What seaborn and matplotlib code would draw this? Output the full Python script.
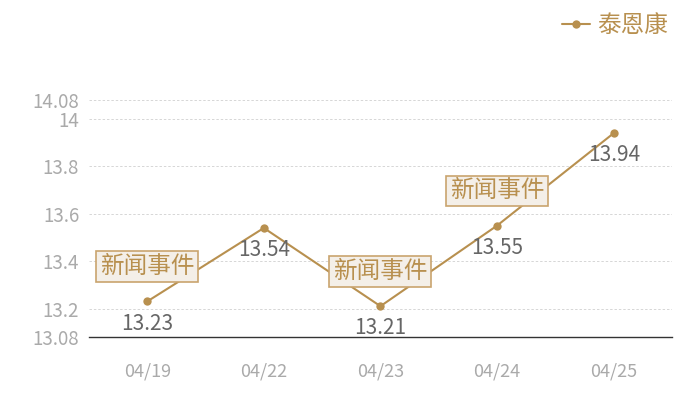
import pandas as pd
import matplotlib
matplotlib.use("Agg")
import matplotlib.pyplot as plt
import seaborn as sns

dates = ["04/19", "04/22", "04/23", "04/24", "04/25"]
prices = [13.23, 13.54, 13.21, 13.55, 13.94]
event_dates = ["04/19", "04/23", "04/24"]
event_label = "新闻事件"
series_name = "泰恩康"
y_ticks = [13.08, 13.2, 13.4, 13.6, 13.8, 14, 14.08]

gold = "#b8904f"

sns.set_style("white")
plt.rcParams["font.family"] = ["Noto Sans CJK SC", "DejaVu Sans"]

df = pd.DataFrame({"date": dates, "price": prices})

fig = plt.figure(figsize=(7, 4), dpi=100)
ax = fig.add_axes([0.127, 0.1575, 0.833, 0.5925])

sns.lineplot(data=df, x="date", y="price", ax=ax, color=gold, linewidth=1.5,
             marker="o", markersize=6, markeredgewidth=0, label=series_name, sort=False)

ax.set_xlim(-0.5, len(dates) - 0.5)
ax.set_ylim(y_ticks[0], y_ticks[-1])
ax.set_yticks(y_ticks)
ax.set_yticklabels([f"{t:g}" for t in y_ticks])
ax.set_xlabel("")
ax.set_ylabel("")

for t in y_ticks[1:]:
    ax.axhline(t, color="#d6d6d6", linewidth=0.7, linestyle=(0, (2.5, 2)), zorder=0)

for s in ["top", "right", "left"]:
    ax.spines[s].set_visible(False)
ax.spines["bottom"].set_color("#333333")
ax.spines["bottom"].set_linewidth(1)
ax.tick_params(axis="y", length=0, colors="#aaaaaa", labelsize=13.5, pad=7)
ax.tick_params(axis="x", length=0, colors="#aaaaaa", labelsize=13, pad=18)

# value labels under the points
for i, v in enumerate(prices):
    ax.annotate(f"{v:.2f}", (i, v), xytext=(0, -16), textcoords="offset points",
                ha="center", va="center", fontsize=15, color="#666666")

# event boxes above the points
for d in event_dates:
    i = dates.index(d)
    ax.annotate(event_label, (i, prices[i]), xytext=(0, 25), textcoords="offset points",
                ha="center", va="center", fontsize=17, color=gold, zorder=5,
                bbox=dict(boxstyle="square,pad=0.16", facecolor="#f4efe8",
                          edgecolor="#c9a46e", linewidth=1.2))

leg = ax.legend(loc="upper right", bbox_to_anchor=(0.975, 1.0), bbox_transform=fig.transFigure,
                frameon=False, fontsize=17, handlelength=1.2, handletextpad=0.3,
                borderaxespad=0.2)
for txt in leg.get_texts():
    txt.set_color(gold)

fig.savefig("out.png", dpi=100)
